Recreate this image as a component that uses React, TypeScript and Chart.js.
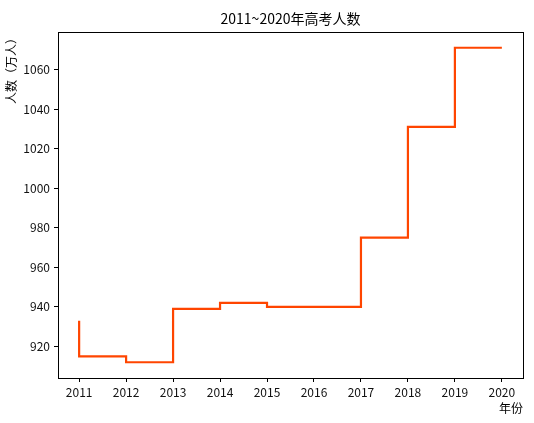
import React, { useEffect, useRef } from 'react';
import { Chart, registerables } from 'chart.js';

Chart.register(...registerables);

const years = [2011, 2012, 2013, 2014, 2015, 2016, 2017, 2018, 2019, 2020];
const applicants = [933, 915, 912, 939, 942, 940, 940, 975, 1031, 1071];
const yTicks = [920, 940, 960, 980, 1000, 1020, 1040, 1060];

const FONT = '"Noto Sans CJK SC", "DejaVu Sans", sans-serif';

// matplotlib-style full box around the axes
const framePlugin = {
  id: 'frame',
  afterDraw(chart: Chart) {
    const { ctx, chartArea: a } = chart;
    ctx.save();
    ctx.strokeStyle = '#000';
    ctx.lineWidth = 1;
    ctx.strokeRect(Math.round(a.left) + 0.5, Math.round(a.top) + 0.5, Math.round(a.right - a.left), Math.round(a.bottom - a.top));
    ctx.restore();
  },
};

const GaokaoChart: React.FC = () => {
  const chartRef = useRef<HTMLCanvasElement>(null);
  const chartInstance = useRef<Chart | null>(null);

  useEffect(() => {
    if (!chartRef.current) return;
    if (chartInstance.current) chartInstance.current.destroy();
    const ctx = chartRef.current.getContext('2d');
    if (!ctx) return;

    const lo = Math.min(...applicants);
    const hi = Math.max(...applicants);
    const pad = (hi - lo) * 0.05;

    chartInstance.current = new Chart(ctx, {
      type: 'line',
      data: {
        datasets: [
          {
            data: years.map((x, i) => ({ x, y: applicants[i] })),
            borderColor: '#ff4500',
            borderWidth: 2.2,
            pointRadius: 0,
            fill: false,
            stepped: 'after',
          },
        ],
      },
      options: {
        animation: false,
        responsive: true,
        maintainAspectRatio: false,
        layout: { padding: { left: 0, right: 11, top: 0, bottom: 0 } },
        plugins: {
          legend: { display: false },
          tooltip: { enabled: false },
          title: {
            display: true,
            text: '2011~2020年高考人数',
            color: '#000',
            fullSize: false,
            font: { family: FONT, size: 14, weight: 'normal', lineHeight: 1.2 },
            padding: { top: 10, bottom: 5.2 },
          },
        },
        scales: {
          x: {
            type: 'linear',
            min: years[0] - (years[years.length - 1] - years[0]) * 0.05,
            max: years[years.length - 1] + (years[years.length - 1] - years[0]) * 0.05,
            afterBuildTicks: (scale) => {
              scale.ticks = years.map((v) => ({ value: v }));
            },
            afterFit: (scale) => {
              scale.height = 45;
            },
            grid: { display: true, drawOnChartArea: false, drawTicks: true, tickLength: 4, color: '#000' },
            border: { display: false },
            ticks: {
              color: '#111',
              padding: 3,
              maxRotation: 0,
              autoSkip: false,
              font: { family: FONT, size: 12 },
              callback: (v) => String(v),
            },
            title: {
              display: true,
              text: '年份',
              align: 'end',
              color: '#000',
              font: { family: FONT, size: 12, lineHeight: 1.2 },
              padding: { top: 0, bottom: 7.8 },
            },
          },
          y: {
            type: 'linear',
            min: lo - pad,
            max: hi + pad,
            afterBuildTicks: (scale) => {
              scale.ticks = yTicks.map((v) => ({ value: v }));
            },
            afterFit: (scale) => {
              scale.width = 58;
            },
            grid: { display: true, drawOnChartArea: false, drawTicks: true, tickLength: 4, color: '#000' },
            border: { display: false },
            ticks: {
              color: '#111',
              padding: 4,
              font: { family: FONT, size: 12 },
              callback: (v) => String(v),
            },
            title: {
              display: true,
              text: '人数（万人）',
              align: 'end',
              color: '#000',
              font: { family: FONT, size: 12, lineHeight: 1.2 },
              padding: { top: 4, bottom: 0 },
            },
          },
        },
      },
      plugins: [framePlugin],
    });

    return () => {
      if (chartInstance.current) {
        chartInstance.current.destroy();
        chartInstance.current = null;
      }
    };
  }, []);

  return (
    <div style={{ position: 'fixed', left: 0, top: 0, width: 534, height: 423, background: '#fff' }}>
      <canvas ref={chartRef}></canvas>
    </div>
  );
};

export default function App() {
  return <GaokaoChart />;
}
